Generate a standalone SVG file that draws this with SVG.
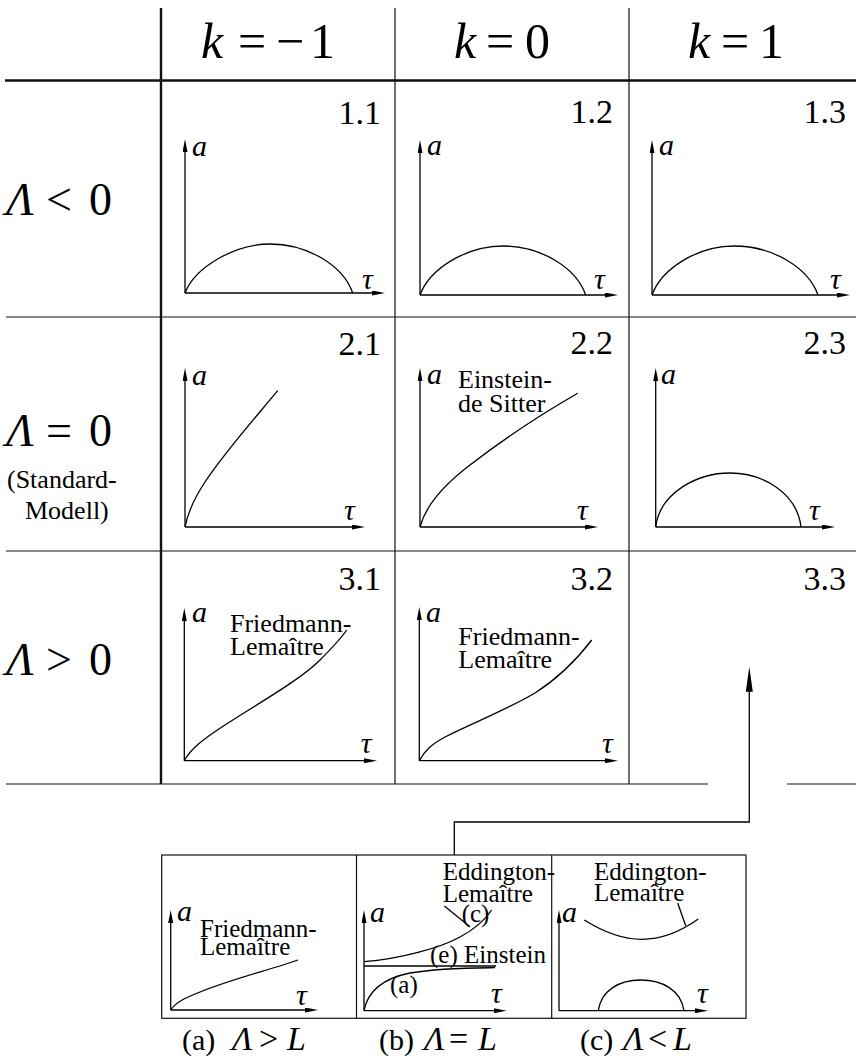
<svg xmlns="http://www.w3.org/2000/svg" width="856" height="1060" viewBox="0 0 856 1060" font-family="'Liberation Serif', 'DejaVu Serif', serif">
<defs>
<marker id="ax" viewBox="0 0 13 5" refX="7" refY="2.5" markerWidth="13" markerHeight="5" markerUnits="userSpaceOnUse" orient="auto"><path d="M0,0 L13,2.5 L0,5 Z" fill="#000"/></marker>
<marker id="big" viewBox="0 0 25 7" refX="15" refY="3.5" markerWidth="25" markerHeight="7" markerUnits="userSpaceOnUse" orient="auto"><path d="M0,0 L25,3.5 L0,7 Z" fill="#000"/></marker>
<style>
text{font-family:'Liberation Serif','DejaVu Serif',serif;fill:#000}
.i{font-style:italic}
.grid{stroke:#111;stroke-width:1.2;fill:none}
.thick{stroke-width:2.4}
.axis{stroke:#000;stroke-width:1.3;fill:none;marker-end:url(#ax)}
.curve{stroke:#000;stroke-width:1.3;fill:none}
.num{font-size:34px;text-anchor:end}
.var{font-size:30px;font-style:italic}
.lbl{font-size:26px}
.sm{font-size:25px}
.hdr{font-size:50px}
.row{font-size:46px}
.cap{font-size:30px}
.capm{font-size:34px}
</style>
</defs>
<rect width="856" height="1060" fill="#fff"/>

<g id="grid">
<path class="grid thick" d="M161,8 V784"/>
<path class="grid" d="M395,8 V784"/>
<path class="grid" d="M629,8 V784"/>
<path class="grid thick" d="M5,80.5 H856"/>
<path class="grid" d="M6,317 H856"/>
<path class="grid" d="M6,551 H856"/>
<path class="grid" d="M6,784 H708 M787,784 H856"/>
</g>

<g id="header">
<text class="hdr" y="58"><tspan class="i" x="201">k</tspan><tspan x="238">=</tspan><tspan x="276">−</tspan><tspan x="310">1</tspan></text>
<text class="hdr" y="58"><tspan class="i" x="454">k</tspan><tspan x="486">=</tspan><tspan x="525">0</tspan></text>
<text class="hdr" y="58"><tspan class="i" x="688">k</tspan><tspan x="721">=</tspan><tspan x="759">1</tspan></text>
</g>

<g id="row-labels">
<text class="row" y="215"><tspan class="i" x="6">Λ</tspan><tspan x="46">&lt;</tspan><tspan x="89">0</tspan></text>
<text class="row" y="446"><tspan class="i" x="6">Λ</tspan><tspan x="46">=</tspan><tspan x="89">0</tspan></text>
<text class="lbl" x="7" y="488">(Standard-</text>
<text class="lbl" x="25" y="519">Modell)</text>
<text class="row" y="675"><tspan class="i" x="6">Λ</tspan><tspan x="46">&gt;</tspan><tspan x="89">0</tspan></text>
</g>

<g id="cell-1-1">
<text class="num" x="381" y="124">1.1</text>
<path class="axis" d="M185,293 V145"/>
<path class="axis" d="M185,293 H379"/>
<path class="curve" d="M185,293 C195,267 235,244 270,244 C307,244 343,265 352.7,293"/>
<text class="var" x="192" y="156">a</text>
<text class="var" x="362" y="289">τ</text>
</g>
<g id="cell-1-2">
<text class="num" x="613" y="123">1.2</text>
<path class="axis" d="M420,295 V146"/>
<path class="axis" d="M420,295 H612"/>
<path class="curve" d="M420,295 C430,268 467,246 503,246 C540,246 576,267 585.7,295"/>
<text class="var" x="427" y="155">a</text>
<text class="var" x="594" y="289">τ</text>
</g>
<g id="cell-1-3">
<text class="num" x="846" y="123">1.3</text>
<path class="axis" d="M652,295 V146"/>
<path class="axis" d="M652,295 H844"/>
<path class="curve" d="M652,295 C662,268 698,246 734,246 C772,246 808,267 818,295"/>
<text class="var" x="659" y="155">a</text>
<text class="var" x="830" y="289">τ</text>
</g>

<g id="cell-2-1">
<text class="num" x="381" y="355">2.1</text>
<path class="axis" d="M185,527 V374"/>
<path class="axis" d="M185,527 H359"/>
<path class="curve" d="M185,527 C188,512 195,497 205,482 C225,452 250,424 277.7,390.7"/>
<text class="var" x="192" y="385">a</text>
<text class="var" x="344" y="520">τ</text>
</g>
<g id="cell-2-2">
<text class="num" x="613" y="354">2.2</text>
<path class="axis" d="M420,527 V374"/>
<path class="axis" d="M420,527 H592"/>
<path class="curve" d="M420,527 C426,504 445,484 470,465 C505,438 540,415 577.7,393.3"/>
<text class="var" x="427" y="384">a</text>
<text class="lbl" x="458" y="388">Einstein-</text>
<text class="lbl" x="458" y="411.7">de Sitter</text>
<text class="var" x="577" y="520">τ</text>
</g>
<g id="cell-2-3">
<text class="num" x="846" y="354">2.3</text>
<path class="axis" d="M655.7,527 V374"/>
<path class="axis" d="M655.7,527 H829"/>
<path class="curve" d="M655.7,527 C660,492 698,473 730,473 C763,473 797,493 801,527"/>
<text class="var" x="661" y="384">a</text>
<text class="var" x="809" y="520">τ</text>
</g>

<g id="cell-3-1">
<text class="num" x="381" y="590">3.1</text>
<path class="axis" d="M184.3,760.7 V614"/>
<path class="axis" d="M184.3,760.7 H371"/>
<path class="curve" d="M184.3,760.7 C191,748 205,738 225,725 C262,701 300,680 320,660 C330,650 340,640 346.7,630"/>
<text class="var" x="192" y="622">a</text>
<text class="lbl" x="230" y="631.7">Friedmann-</text>
<text class="lbl" x="230" y="655">Lemaître</text>
<text class="var" x="360.7" y="753">τ</text>
</g>
<g id="cell-3-2">
<text class="num" x="613" y="590">3.2</text>
<path class="axis" d="M419.3,760.7 V613"/>
<path class="axis" d="M419.3,760.7 H612"/>
<path class="curve" d="M419.3,760.7 C425,750 432,744 445,737 C475,722 510,708 535,693 C560,677 578,658 591.7,640"/>
<text class="var" x="426" y="622">a</text>
<text class="lbl" x="458.3" y="645">Friedmann-</text>
<text class="lbl" x="458.3" y="667.7">Lemaître</text>
<text class="var" x="602" y="753">τ</text>
</g>
<g id="cell-3-3">
<text class="num" x="846" y="590">3.3</text>
</g>

<g id="panel-box">
<rect x="161.7" y="855" width="584.3" height="163.3" fill="none" stroke="#111" stroke-width="1.2"/>
<path class="grid" d="M356.5,855 V1018.3 M551.7,855 V1018.3"/>
</g>

<g id="panel-a">
<path class="axis" d="M170.7,1010 V916"/>
<path class="axis" d="M170.7,1010 H312"/>
<path class="curve" d="M170.7,1010 C176,1002 185,998 200,992 C235,978 270,970 298,960"/>
<text class="var" x="177" y="921">a</text>
<text class="sm" x="200" y="936.7">Friedmann-</text>
<text class="sm" x="200" y="955">Lemaître</text>
<text class="var" x="296" y="1005">τ</text>
<text y="1050"><tspan class="cap" x="182">(a)</tspan><tspan class="capm i" x="232">Λ</tspan><tspan class="capm" x="259">&gt;</tspan><tspan class="capm i" x="287">L</tspan></text>
</g>

<g id="panel-b">
<path class="axis" d="M364,1010.7 V916"/>
<path class="axis" d="M364,1010.7 H500.7"/>
<path class="curve" d="M364,961.7 C400,959 440,948 460,937 C475,929 485,920 491.7,910"/>
<path class="curve" d="M364,966 H496"/>
<path class="curve" d="M364,1010.7 C368,990 385,978 410,973 C440,968 470,968 495,967.7"/>
<path class="curve" d="M444.3,906 L470,926.7"/>
<text class="var" x="370" y="922">a</text>
<text class="sm" x="442.7" y="880">Eddington-</text>
<text class="sm" x="442.7" y="901.7">Lemaître</text>
<text class="sm" x="461.7" y="921.7">(c)</text>
<text class="sm" x="430" y="963">(e) Einstein</text>
<text class="sm" x="390" y="993">(a)</text>
<text class="var" x="491" y="1003">τ</text>
<text y="1050"><tspan class="cap" x="379">(b)</tspan><tspan class="capm i" x="424">Λ</tspan><tspan class="capm" x="449">=</tspan><tspan class="capm i" x="478">L</tspan></text>
</g>

<g id="panel-c">
<path class="axis" d="M559,1010.7 V916"/>
<path class="axis" d="M559,1010.7 H702"/>
<path class="curve" d="M584.3,920 C605,933 623,939.3 641.7,939.3 C661,939.3 680,932 698.3,919"/>
<path class="curve" d="M598.3,1010.7 C601,990 620,980 640.7,980 C662,980 681,990 684,1010.7"/>
<path class="curve" d="M677.7,903 L685.7,925.7"/>
<text class="var" x="562" y="922">a</text>
<text class="sm" x="594" y="880">Eddington-</text>
<text class="sm" x="594" y="901">Lemaître</text>
<text class="var" x="697" y="1003">τ</text>
<text y="1050"><tspan class="cap" x="580">(c)</tspan><tspan class="capm i" x="623">Λ</tspan><tspan class="capm" x="648">&lt;</tspan><tspan class="capm i" x="673">L</tspan></text>
</g>

<g id="connectors">
<path d="M454.3,855 V822 H749.3 V676.7" fill="none" stroke="#000" stroke-width="1.3" marker-end="url(#big)"/>
</g>
</svg>
